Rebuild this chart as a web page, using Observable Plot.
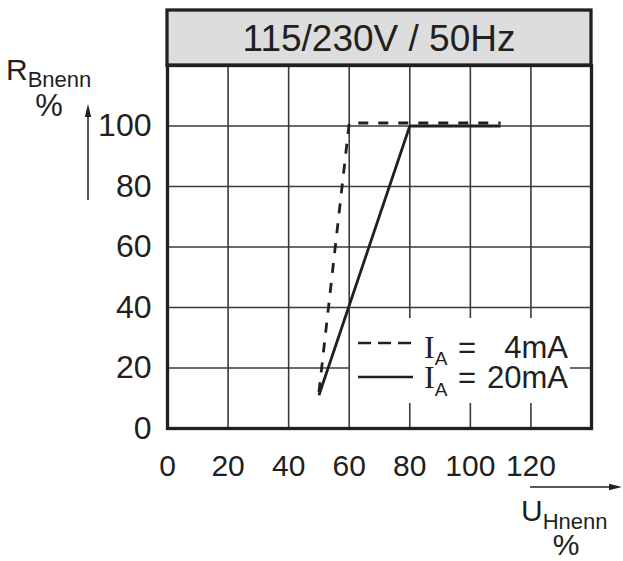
<!DOCTYPE html>
<html>
<head>
<meta charset="utf-8">
<script src="https://cdn.jsdelivr.net/npm/d3@7"></script>
<script src="https://cdn.jsdelivr.net/npm/@observablehq/plot@0.6"></script>
<style>
  html, body { margin: 0; padding: 0; background: #ffffff; }
  #chart { width: 623px; height: 561px; }
</style>
</head>
<body>
<div id="chart"></div>
<script>
// ---- data ----
const titleText = "115/230V / 50Hz";
// I_A = 4 mA (dashed)
const u4 = [50, 60, 110];
const r4 = [12, 101, 101];
// I_A = 20 mA (solid)
const u20 = [50, 80, 110];
const r20 = [11, 100, 100];
const xTickLabels = [0, 20, 40, 60, 80, 100, 120];
const yTickLabels = [0, 20, 40, 60, 80, 100];
const xGrid = [0, 20, 40, 60, 80, 100, 120, 140];
const yGrid = [0, 20, 40, 60, 80, 100, 120];
const legendLabels = ["4mA", "20mA"];

const series4 = u4.map((u, i) => ({u, r: r4[i]}));
const series20 = u20.map((u, i) => ({u, r: r20[i]}));

const ink = "#231f20";
const gridColor = "#3a3a3a";

const svg = Plot.plot({
  width: 623,
  height: 561,
  marginLeft: 167,
  marginRight: 32,
  marginTop: 65,
  marginBottom: 133,
  x: {domain: [0, 140]},
  y: {domain: [0, 120]},
  style: {fontFamily: "'Liberation Sans', Arial, sans-serif", fontSize: "30px", color: ink, background: "#ffffff", overflow: "visible"},
  marks: [
    Plot.gridX({ticks: xGrid, stroke: gridColor, strokeOpacity: 1, strokeWidth: 1.6}),
    Plot.gridY({ticks: yGrid, stroke: gridColor, strokeOpacity: 1, strokeWidth: 1.6}),
    Plot.line(series20, {x: "u", y: "r", stroke: ink, strokeWidth: 2.8, strokeLinecap: "butt", strokeLinejoin: "miter"}),
    Plot.line(series4, {x: "u", y: "r", stroke: ink, strokeWidth: 2.8, strokeDasharray: "10,10", strokeLinecap: "butt", strokeLinejoin: "miter"}),
    Plot.frame({stroke: ink, strokeWidth: 3.3}),
    Plot.axisX({ticks: xTickLabels, tickSize: 0, tickPadding: 26, fontSize: 30, label: null}),
    Plot.axisY({ticks: yTickLabels, tickSize: 0, tickPadding: 16, fontSize: 32, label: null})
  ]
});

document.getElementById("chart").appendChild(svg);

// ---- annotations: title box, axis labels, arrows, legend ----
const root = d3.select(svg);
const g = root.append("g").attr("fill", ink).attr("text-anchor", "start")
  .attr("font-family", "'Liberation Sans', Arial, sans-serif");

// title box
g.append("rect").attr("x", 167).attr("y", 10).attr("width", 424).attr("height", 55)
  .attr("fill", "#dddddd").attr("stroke", ink).attr("stroke-width", 3.3);
g.append("text").attr("x", 379).attr("y", 51).attr("text-anchor", "middle")
  .attr("font-size", 37).text(titleText);

// y axis label R_Bnenn %
const ry = g.append("text").attr("x", 6).attr("y", 80).attr("text-anchor", "start").attr("font-size", 30);
ry.append("tspan").text("R");
ry.append("tspan").attr("font-size", 22).attr("dy", 7).text("Bnenn");
g.append("text").attr("x", 49).attr("y", 116).attr("text-anchor", "middle").attr("font-size", 31).text("%");

// x axis label U_Hnenn %
const ux = g.append("text").attr("x", 521).attr("y", 521).attr("text-anchor", "start").attr("font-size", 30);
ux.append("tspan").text("U");
ux.append("tspan").attr("font-size", 22).attr("dy", 8).text("Hnenn");
g.append("text").attr("x", 566).attr("y", 555).attr("text-anchor", "middle").attr("font-size", 30).text("%");

// arrows
g.append("line").attr("x1", 88).attr("y1", 200).attr("x2", 88).attr("y2", 112).attr("stroke", ink).attr("stroke-width", 1.5);
g.append("path").attr("d", "M88,104 L84.8,117 L91.2,117 Z");
g.append("line").attr("x1", 530).attr("y1", 487).attr("x2", 612).attr("y2", 487).attr("stroke", ink).attr("stroke-width", 1.5);
g.append("path").attr("d", "M622,487 L609,483.8 L609,490.2 Z");

// legend
g.append("rect").attr("x", 350).attr("y", 318).attr("width", 220).attr("height", 85).attr("fill", "#ffffff");
g.append("line").attr("x1", 358).attr("x2", 412).attr("y1", 343).attr("y2", 343)
  .attr("stroke", ink).attr("stroke-width", 2.7).attr("stroke-dasharray", "13,7");
g.append("line").attr("x1", 358).attr("x2", 413).attr("y1", 377).attr("y2", 377)
  .attr("stroke", ink).attr("stroke-width", 2.7);
const baselines = [357.7, 388.3];
legendLabels.forEach((lab, i) => {
  const t = g.append("text").attr("x", 424).attr("y", baselines[i]).attr("text-anchor", "start");
  t.append("tspan").attr("font-family", "'Liberation Serif', 'Times New Roman', serif").attr("font-size", 32).text("I");
  t.append("tspan").attr("font-size", 19).attr("dy", 7.5).text("A");
  g.append("text").attr("x", 458).attr("y", baselines[i]).attr("text-anchor", "start").attr("font-size", 31).text("=");
  g.append("text").attr("x", 568).attr("y", baselines[i]).attr("text-anchor", "end").attr("font-size", 31).text(lab);
});
</script>
</body>
</html>
